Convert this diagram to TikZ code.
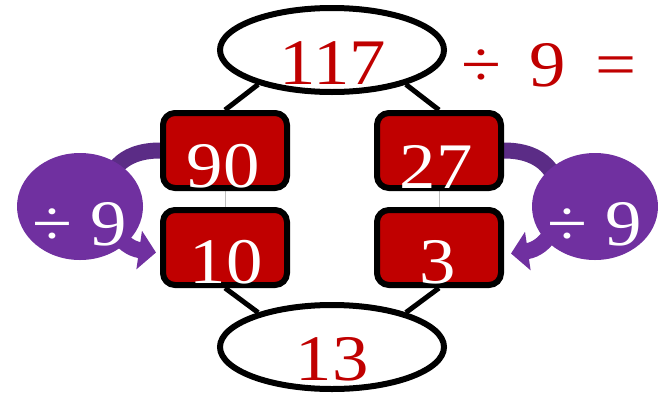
\documentclass[tikz,border=0pt]{standalone}
\usepackage{fontspec}
\setmainfont{Liberation Serif}
\newfontfamily\numfont[FakeStretch=1.12]{Liberation Serif}
\usetikzlibrary{arrows.meta,shapes.geometric}
\definecolor{boxred}{HTML}{C00000}
\definecolor{txtred}{HTML}{C00000}
\definecolor{opurple}{HTML}{7030A0}
\definecolor{dpurple}{HTML}{5B2C86}
\pgfdeclarelayer{bg}
\pgfsetlayers{bg,main}
\begin{document}
\begin{tikzpicture}[x=1pt,y=-1pt,
  numbox/.style={draw=black, fill=boxred, line width=6pt, rounded corners=12pt, minimum width=124pt, minimum height=75pt, inner sep=0pt},
  oval/.style={ellipse, draw=black, fill=white, line width=6pt, minimum width=224pt, minimum height=84pt, inner sep=0pt},
  bubble/.style={ellipse, fill=opurple, minimum width=126pt, minimum height=107pt, inner sep=0pt},
  big/.style={font=\numfont\fontsize{65}{65}\selectfont, inner sep=0pt, text depth=0pt, anchor=base},
  redtxt/.style={big, text=txtred},
  whitetxt/.style={big, text=white},
  link/.style={line width=5pt, black},
  gapline/.style={line width=0.8pt, gray!50},
  band/.style={line width=16pt},
  bandtip/.style={-{Triangle[length=17pt,width=38pt]}},
]
\useasboundingbox (0,0) rectangle (658,394);

\node[oval] (top) at (332,50) {};
\node[oval] (bot) at (332,347) {};
\node[numbox] (lt) at (225,150.5) {};
\node[numbox] (lb) at (225,247.5) {};
\node[numbox] (rt) at (439,150.5) {};
\node[numbox] (rb) at (439,247.5) {};
\node[bubble] (lc) at (80,206.5) {};
\node[bubble] (rc) at (595,206.5) {};

\node[redtxt] (t117) at (333,84) {117};
\node[redtxt, anchor=base west] (eq) at (461,86) {÷\hspace{28pt}9\hspace{30pt}=};
\node[whitetxt] (t90) at (223,187) {90};
\node[whitetxt] (t10) at (226,283) {10};
\node[whitetxt] (t27) at (436,188) {27};
\node[whitetxt] (t3) at (438,283) {3};
\node[redtxt] (t13) at (332,380) {13};
\node[whitetxt] (d1) at (80,245) {÷ 9};
\node[whitetxt] (d2) at (594.5,245) {÷ 9};

\begin{pgfonlayer}{bg}
\draw[link] (top.205) -- (lt.north);
\draw[link] (top.-25) -- (rt.north);
\draw[link] (lb.south) -- (bot.155);
\draw[link] (rb.south) -- (bot.25);
\draw[gapline] (lt.south) -- (lb.north);
\draw[gapline] (rt.south) -- (rb.north);
\coordinate (ltip) at ([xshift=-4pt,yshift=-5pt]lb.west);
\coordinate (rtip) at ([xshift=7pt,yshift=-6pt]rb.east);
\begin{scope}
\clip (0,0) rectangle (658,200);
\draw[band, dpurple] (lt.west) .. controls +(-80,0) and +(-55,-8) .. (ltip);
\draw[band, dpurple] (rt.east) .. controls +(80,0) and +(55,-8) .. (rtip);
\end{scope}
\begin{scope}
\clip (0,200) rectangle (658,394);
\draw[band, opurple, bandtip] (lt.west) .. controls +(-80,0) and +(-55,-8) .. (ltip);
\draw[band, opurple, bandtip] (rt.east) .. controls +(80,0) and +(55,-8) .. (rtip);
\end{scope}
\end{pgfonlayer}
\end{tikzpicture}
\end{document}
